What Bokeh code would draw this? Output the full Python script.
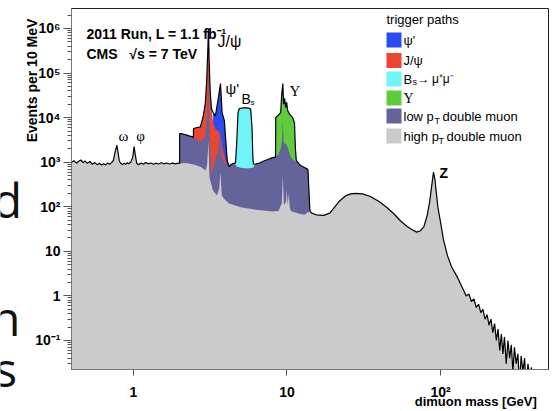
from bokeh.plotting import figure
from bokeh.layouts import row
from bokeh.models import Label, BoxAnnotation, FixedTicker, CustomJSTickFormatter, Range1d
from bokeh.core.properties import value
from bokeh.embed import file_html
from bokeh.resources import INLINE

# ---------------- data ----------------
# total dimuon spectrum (black outline), events per 10 MeV
mass_total = [0.395, 0.41, 0.425, 0.44, 0.455, 0.47, 0.485, 0.50, 0.52, 0.54, 0.56, 0.58, 0.60,
              0.62, 0.64, 0.66, 0.68, 0.70, 0.72, 0.74, 0.76, 0.78, 0.795, 0.81, 0.83, 0.85, 0.87,
              0.89, 0.91, 0.93, 0.96, 0.99, 1.01, 1.03, 1.05, 1.08, 1.12, 1.16, 1.20, 1.25, 1.30,
              1.35, 1.40, 1.46, 1.52, 1.58, 1.65, 1.72, 1.80, 1.88, 1.96, 2.0,
              2.0, 2.1, 2.2, 2.3, 2.4, 2.46, 2.46, 2.6, 2.73, 2.85, 2.94, 3.0, 3.05, 3.08, 3.11,
              3.16, 3.22, 3.3, 3.42, 3.55, 3.69, 3.78, 3.91, 3.98, 4.08, 4.2, 4.35, 4.55, 4.62,
              4.7, 4.8, 4.9, 5.2, 5.6, 5.8, 5.92, 6.0, 6.05, 6.2, 6.6, 7.0, 7.5, 8.0, 8.42, 8.45,
              8.8, 9.1, 9.25, 9.4, 9.5, 9.65, 9.8, 9.95, 10.1, 10.4, 10.9, 11.2, 11.35, 11.5,
              12.2, 13.0, 13.6, 13.7, 14.1, 14.5, 15.5, 17.3, 19.0, 20.5, 22.0, 24.0, 26.0, 28.0,
              31.0, 35.0, 40.0, 45.0, 50.0, 55.0, 60.0, 65.0, 70.0, 74.0, 78.0, 82.0, 85.0, 88.0,
              90.0, 92.0, 94.0, 96.0, 100.0, 104.6, 111.0, 118.0, 129.0, 141.0, 147.0, 153.0,
              159.0, 165.0, 171.0, 177.0, 183.0, 189.0, 195.0, 201.0, 207.0, 213.0, 219.0, 225.0,
              231.0, 237.0, 243.0, 249.0, 255.0, 261.0, 268.0, 275.0, 282.0, 289.0, 296.0, 303.0,
              311.0, 319.0, 327.0, 335.0, 344.0, 353.0, 362.0, 371.0, 381.0, 391.0, 402.0, 410.0]
events_total = [1000, 1080, 950, 1050, 1120, 980, 1060, 940, 1040, 900, 980, 880, 950,
                860, 920, 870, 960, 900, 980, 1100, 1700, 2400, 1600, 1050, 930, 880, 950,
                900, 970, 920, 1000, 1300, 2250, 1400, 950, 880, 960, 900, 980, 920, 960,
                900, 950, 910, 970, 920, 960, 910, 950, 920, 960, 940,
                4400, 4300, 4100, 3900, 3750, 3600, 5700, 6000, 6200, 1.1e4, 2.1e4, 6.8e4, 3.2e5, 1.0e6, 2.0e5,
                4.0e4, 1.6e4, 1.3e4, 1.1e4, 2.4e4, 5.8e4, 1.3e4, 8600, 3600, 1100, 800, 900, 950, 950,
                2500, 1.3e4, 1.6e4, 1.65e4, 1.65e4, 1.55e4, 6000, 1200, 900, 900, 950, 1050, 1150, 1250, 1300, 1.0e4,
                1.15e4, 1.3e4, 3.5e4, 5.8e4, 2.0e4, 2.7e4, 1.7e4, 2.2e4, 1.45e4, 1.2e4, 1.0e4, 7400, 2000, 1100,
                850, 760, 700, 680, 80, 72, 66, 64, 72, 100, 135, 175, 195, 200,
                195, 170, 130, 95, 68, 48, 37, 31, 27, 29, 36, 65, 130, 330,
                600, 400, 200, 100, 45, 18, 8, 4.5, 2.6, 1.35, 1.0, 1.1,
                0.75, 0.85, 0.55, 0.65, 0.42, 0.5, 0.3, 0.38, 0.22, 0.3, 0.15, 0.24,
                0.1, 0.18, 0.06, 0.14, 0.05, 0.12, 0.03, 0.1, 0.04, 0.08, 0.02, 0.07,
                0.03, 0.05, 0.01, 0.045, 0.02, 0.04, 0.008, 0.03, 0.015, 0.025, 0.005, 0.001]

# high pT double muon (grey) top inside the 2-14 GeV window (elsewhere it is the total)
highpt_mass = [2.0, 2.2, 2.5, 2.75, 2.95, 3.02, 3.08, 3.13, 3.3, 3.5, 3.62, 3.69, 3.76, 3.9,
               4.2, 5.0, 6.0, 7.0, 8.0, 8.8, 9.25, 9.4, 9.55, 9.85, 9.95, 10.1, 10.3, 10.4,
               10.6, 12.0, 13.0, 14.1]
highpt_events = [940, 960, 880, 780, 650, 900, 3000, 450, 230, 180, 260, 600, 180, 150,
                 118, 98, 88, 82, 78, 80, 120, 500, 110, 130, 250, 110, 200, 100,
                 80, 70, 66, 80]

# low pT double muon (purple) top
lowpt_mass = [2.0, 2.1, 2.2, 2.3, 2.4, 2.46, 2.6, 2.75, 2.9, 3.0, 3.05, 3.08, 3.11, 3.16, 3.22,
              3.35, 3.5, 3.6, 3.66, 3.72, 3.8, 3.9, 4.1, 4.2, 4.35, 4.55, 4.7, 5.0, 5.5, 6.0,
              6.2, 6.6, 7.0, 7.5, 8.0, 8.42, 8.8, 9.1, 9.3, 9.4, 9.5, 9.7, 9.95, 10.2, 10.6,
              11.0, 11.4, 11.5, 12.2, 13.0, 13.6, 13.7, 14.1]
lowpt_events = [4400, 4300, 4100, 3900, 3750, 3600, 3200, 2900, 3500, 8000, 3.0e4, 1.1e5, 1.5e4, 2000, 500,
                900, 1500, 2500, 8000, 1800, 1200, 1000, 800, 800, 900, 950, 800, 750, 720, 750,
                900, 950, 1050, 1150, 1250, 1300, 1500, 2000, 3500, 9000, 3000, 2600, 2500, 1900, 1300,
                1100, 1050, 1100, 850, 760, 700, 680, 80]

# J/psi trigger (red) top
jpsi_mass = [2.46, 2.6, 2.73, 2.85, 2.94, 3.0, 3.05, 3.08, 3.11, 3.16, 3.22, 3.3, 3.42, 3.55,
             3.69, 3.8, 3.95, 4.05, 4.15]
jpsi_events = [5700, 6000, 6200, 1.1e4, 2.1e4, 6.8e4, 3.2e5, 6.0e5, 2.0e5, 4.0e4, 1.6e4, 8000, 5500, 5000,
               4000, 2100, 1200, 900, 700]

# psi' trigger (blue) top
psi2s_mass = [3.3, 3.42, 3.55, 3.69, 3.78, 3.91, 3.98, 4.08, 4.15]
psi2s_events = [1.3e4, 1.1e4, 2.4e4, 5.8e4, 1.3e4, 8600, 3600, 1100, 850]

# Bs -> mu mu trigger (cyan) top
bs_mass = [4.5, 4.62, 4.7, 4.8, 4.9, 5.2, 5.6, 5.8, 5.92, 6.0, 6.05]
bs_events = [900, 950, 2500, 1.3e4, 1.6e4, 1.65e4, 1.65e4, 1.55e4, 6000, 1200, 900]

# Upsilon trigger (green) top
ups_mass = [8.42, 8.45, 8.8, 9.1, 9.25, 9.4, 9.5, 9.65, 9.8, 9.95, 10.1, 10.4, 10.9, 11.2, 11.35, 11.5]
ups_events = [1300, 1.0e4, 1.15e4, 1.3e4, 3.5e4, 5.8e4, 2.0e4, 2.7e4, 1.7e4, 2.2e4, 1.45e4, 1.2e4, 1.0e4, 7400, 2000, 1100]

# axis ticks
x_ticks = [1, 10, 100]
x_tick_labels = ["1", "10", "10²"]
y_ticks = [0.1, 1, 10, 100, 1e3, 1e4, 1e5, 1e6]
y_tick_labels = ["10⁻¹", "1", "10", "10²", "10³", "10⁴", "10⁵", "10⁶"]

legend_labels = ["ψ'", "J/ψ", "Bs", "Υ", "low pT double muon", "high pT double muon"]

# slide text fragments visible at the left edge of the picture
slide_letters = ["d", "n", "s"]

# ---------------- style ----------------
BLUE = "#2a4af6"
RED = "#ea4630"
CYAN = "#6ff4f8"
GREEN = "#5fcd3b"
PURPLE = "#64649b"
GREY = "#cbcbcb"
NARROW = "'Liberation Sans Narrow', 'Liberation Sans', Arial, sans-serif"
SANS = "'Liberation Sans', Arial, sans-serif"
SERIF = "'Liberation Serif', 'DejaVu Serif', serif"
EM, EN = "\u2003", "\u2002"   # wide spaces, used to slide the axis titles along their axes

STRIP = 20          # width of the slide strip on the left
FL, FB = 71, 369    # frame left / bottom in window pixels
FT, FR = 8, 548     # frame top / right


def at(px, py):
    return dict(x=px - FL, y=FB - py, x_units="screen", y_units="screen")


# --- left strip with the cut-off slide letters
s = figure(frame_width=STRIP, frame_height=411, x_range=Range1d(0, STRIP), y_range=Range1d(0, 411),
           output_backend="svg", toolbar_location=None, x_axis_location=None,
           y_axis_location=None, title=None,
           min_border_left=0, min_border_right=0, min_border_top=0, min_border_bottom=0)
s.outline_line_color = None
s.xgrid.visible = False
s.ygrid.visible = False
s.text(x=[21.5, 20, 16.5], y=[411 - 190.5, 411 - 308.5, 411 - 359.5], text=slide_letters,
       text_align="right", text_baseline="alphabetic", text_font=value("Open Sans"),
       text_font_size="48px", text_color="#111111")

# --- main chart
p = figure(width=554 - STRIP, height=411, x_axis_type="log", y_axis_type="log",
           x_range=Range1d(0.395, 505), y_range=Range1d(0.0223, 2.81e6),
           output_backend="svg", toolbar_location=None, title=None,
           min_border_left=FL - STRIP, min_border_right=554 - FR, min_border_top=FT,
           min_border_bottom=411 - FB)
p.background_fill_color = "white"
p.border_fill_color = "white"
p.outline_line_color = "#222222"
p.outline_line_width = 1
p.xgrid.visible = False
p.ygrid.visible = False

FLOOR = 1e-3

# grey layer = total outside the window, its own curve inside
g_m, g_v = [], []
for m, v in zip(mass_total, events_total):
    if m < highpt_mass[0]:
        g_m.append(m); g_v.append(v)
g_m += highpt_mass; g_v += highpt_events
for m, v in zip(mass_total, events_total):
    if m > highpt_mass[-1]:
        g_m.append(m); g_v.append(v)

p.varea(x=psi2s_mass, y1=FLOOR, y2=psi2s_events, fill_color=BLUE)
p.varea(x=jpsi_mass, y1=FLOOR, y2=jpsi_events, fill_color=RED)
p.varea(x=bs_mass, y1=FLOOR, y2=bs_events, fill_color=CYAN)
p.varea(x=ups_mass, y1=FLOOR, y2=ups_events, fill_color=GREEN)
p.varea(x=lowpt_mass, y1=FLOOR, y2=lowpt_events, fill_color=PURPLE)
p.varea(x=g_m, y1=FLOOR, y2=g_v, fill_color=GREY)
p.line(mass_total, events_total, line_color="black", line_width=1.2)

# axes
fmt_code = """
const i = tvals.findIndex(t => Math.abs(Math.log10(t) - Math.log10(tick)) < 1e-6);
return i >= 0 ? tlabels[i] : "";
"""
p.xaxis.ticker = FixedTicker(ticks=x_ticks, minor_ticks=[])
p.xaxis.formatter = CustomJSTickFormatter(args=dict(tvals=x_ticks, tlabels=x_tick_labels), code=fmt_code)
y_minor = [k * 10.0 ** e for e in range(-2, 7) for k in range(2, 10)]
p.yaxis.ticker = FixedTicker(ticks=y_ticks, minor_ticks=y_minor)
p.yaxis.formatter = CustomJSTickFormatter(args=dict(tvals=y_ticks, tlabels=y_tick_labels), code=fmt_code)

for ax in (p.xaxis, p.yaxis):
    ax.axis_line_color = "#777777"
    ax.major_tick_line_color = "#555555"
    ax.minor_tick_line_color = "#555555"
    ax.major_tick_in = 0
    ax.minor_tick_in = 0
    ax.major_label_text_font = NARROW
    ax.major_label_text_font_style = "bold"
    ax.major_label_text_font_size = "14px"
    ax.major_label_text_color = "black"
    ax.axis_label_text_font = SANS
    ax.axis_label_text_font_style = "bold"
    ax.axis_label_text_color = "black"
p.xaxis.axis_label_text_font_size = "13px"
p.yaxis.axis_label_text_font_size = "14px"
p.xaxis.major_tick_out = 6
p.xaxis.minor_tick_out = 0
p.xaxis.major_label_standoff = 8
p.yaxis.major_tick_out = 8
p.yaxis.minor_tick_out = 4
p.yaxis.major_label_standoff = 3

# titles sit at the far ends of the axes, as in the original: centred labels
# led by wide spaces
p.xaxis.axis_label = EM * 25 + EN + "dimuon mass [GeV]"
p.yaxis.axis_label = EN + EM * 15 + "Events per 10 MeV"
p.xaxis.axis_label_standoff = -9
p.yaxis.axis_label_standoff = -8

# annotations


def txt(px, py, s_, size="14px", font=NARROW, align="left", style="normal", baseline="middle"):
    p.add_layout(Label(**at(px, py), text=s_, text_align=align, text_baseline=baseline,
                       text_font=font, text_font_size=size, text_font_style=style,
                       text_color="black"))


txt(86, 33, "2011 Run, L = 1.1 fb⁻¹", style="bold")
txt(86, 53, "CMS\u00a0\u00a0\u00a0√s = 7 TeV", style="bold")
txt(217, 41, "J/ψ", size="16px", font=SANS)
txt(225, 88, "ψ'", size="15px", font=SANS)
txt(241, 98, "B", size="14px", font=SANS)
txt(250, 102, "s", size="8px", font=SANS)
txt(289, 90, "Υ", size="15px", font=SERIF)
txt(123, 135, "ω", size="15px", font=SERIF, align="center")
txt(140, 135, "φ", size="15px", font=SERIF, align="center")
txt(439, 172, "Z", size="14px", font=SANS, style="bold")

# legend
LS = "13px"
txt(386, 19, "trigger paths", size=LS, font=SANS)
rows = [39.5, 60, 78.5, 97.5, 115.5, 135.5]
colors = [BLUE, RED, CYAN, GREEN, PURPLE, GREY]
for py, c in zip(rows, colors):
    p.add_layout(BoxAnnotation(left=386 - FL, right=401 - FL, top=FB - (py - 7.5), bottom=FB - (py + 7.5),
                               left_units="screen", right_units="screen", top_units="screen",
                               bottom_units="screen", fill_color=c, fill_alpha=1, line_color=None))
txt(403, rows[0], legend_labels[0], size=LS, font=SANS)
txt(403, rows[1], legend_labels[1], size=LS, font=SANS)
txt(403, rows[2], "B", size=LS, font=SANS)
txt(412, rows[2] + 3, "s", size="9px", font=SANS)
txt(417, rows[2], "→\u2009μ⁺μ⁻", size="12px", font=SANS)
txt(403, rows[3], legend_labels[3], size="14px", font=SERIF)
txt(403, rows[4], "low p", size=LS, font=SANS)
txt(434, rows[4] + 5, "T", size="9px", font=SANS)
txt(442, rows[4], "double muon", size=LS, font=SANS)
txt(403, rows[5], "high p", size=LS, font=SANS)
txt(438, rows[5] + 5, "T", size="9px", font=SANS)
txt(446, rows[5], "double muon", size=LS, font=SANS)

layout = row(s, p, spacing=0)
open("out.html", "w").write(file_html(layout, INLINE))
